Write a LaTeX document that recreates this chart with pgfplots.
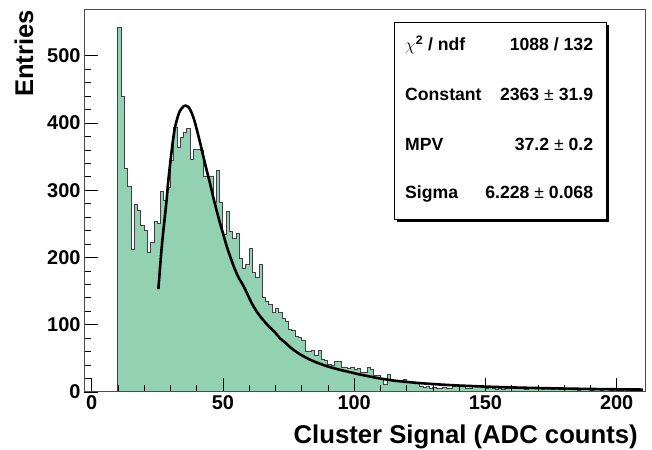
\documentclass[border=0pt]{standalone}
\usepackage{fontspec}
\setmainfont{Liberation Sans}
\usepackage{pgfplots}
\pgfplotsset{compat=1.18}
\definecolor{histfill}{RGB}{147,209,179}
\begin{document}
\begin{tikzpicture}[x=1bp,y=1bp,font=\bfseries]
\path[use as bounding box] (0,0) rectangle (652,450);
\begin{axis}[
  at={(84bp,58bp)}, anchor=south west, scale only axis,
  width=561bp, height=382.5bp,
  xmin=-2.93, xmax=210.8, ymin=0, ymax=569,
  axis line style={black!70, line width=1bp},
  xtick={0,50,100,150,200}, ytick={0,100,200,300,400,500},
  minor x tick num=4, minor y tick num=4,
  tick align=inside, xtick pos=left, ytick pos=left,
  major tick length=14bp, minor tick length=7bp,
  tick style={black, line width=0.8bp},
  tick label style={font=\fontsize{20}{24}\selectfont\bfseries},
  /pgf/number format/assume math mode=true,
  axis on top,
]
\addplot[const plot, fill=histfill, draw=black!75, line width=0.9bp] coordinates {
(10,542) (11.25,440) (12.5,332) (13.75,306) (15,212) (16.25,279) (17.5,270) (18.75,247) (20,240) (21.25,207) (22.5,222) (23.75,253) (25,250) (26.25,299) (27.5,285) (28.75,305) (30,345) (31.25,393) (32.5,364) (33.75,378) (35,386) (36.25,392) (37.5,346) (38.75,361) (40,361) (41.25,360) (42.5,321) (43.75,321) (45,320) (46.25,282) (47.5,330) (48.75,282) (50,235) (51.25,268) (52.5,239) (53.75,229) (55,236) (56.25,199) (57.5,184) (58.75,189) (60,214) (61.25,178) (62.5,170) (63.75,189) (65,141) (66.25,135) (67.5,130) (68.75,118) (70,125) (71.25,118) (72.5,110) (73.75,105) (75,93) (76.25,91) (77.5,83) (78.75,81) (80,76) (81.25,61) (82.5,60) (83.75,62) (85,54) (86.25,62) (87.5,49) (88.75,47) (90,41) (91.25,39) (92.5,45) (93.75,46) (95,36) (96.25,37) (97.5,35) (98.75,37) (100,34) (101.25,35) (102.5,29) (103.75,29) (105,36) (106.25,34) (107.5,24) (108.75,24) (110,20) (111.25,11) (112.5,26) (113.75,17) (115,16) (116.25,16) (117.5,17) (118.75,19) (120,15) (121.25,14) (122.5,14) (123.75,12) (125,8) (126.25,7) (127.5,8) (128.75,6) (130,7) (131.25,6) (132.5,6) (133.75,7) (135,6) (136.25,6) (137.5,8) (138.75,10) (140,9) (141.25,10) (142.5,5) (143.75,5) (145,8) (146.25,8) (147.5,9) (148.75,7) (150,6) (151.25,7) (152.5,5) (153.75,4) (155,5) (156.25,4) (157.5,6) (158.75,6) (160,7) (161.25,5) (162.5,6) (163.75,7) (165,4) (166.25,6) (167.5,5) (168.75,6) (170,5) (171.25,4) (172.5,6) (173.75,5) (175,4) (176.25,5) (177.5,6) (178.75,4) (180,5) (181.25,4) (182.5,5) (183.75,4) (185,3) (186.25,5) (187.5,4) (188.75,4) (190,3) (191.25,5) (192.5,4) (193.75,3) (195,4) (196.25,4) (197.5,3) (198.75,4) (200,3) (201.25,3) (202.5,4) (203.75,3) (205,3) (206.25,4) (207.5,3) (208.75,3) (210,3)
} \closedcycle;
\addplot[black, line width=2.6bp, smooth, tension=0.5] coordinates {
(25.4,153) (26.0,183) (26.6,212) (27.3,240) (28.0,265) (28.6,288) (29.2,315) (30.0,343) (30.5,360) (31.1,378) (31.7,393) (32.4,404) (33.0,412) (33.6,418) (34.3,422) (35.0,425) (35.7,426) (36.5,425) (37.4,421) (38.0,416) (38.7,409) (39.4,400) (40.0,391) (41.3,371) (42.5,351) (43.8,330) (45.1,310) (46.3,290) (47.6,270) (48.9,251) (50.1,235) (51.5,216) (52.9,200) (54.5,183) (56.0,170) (57.8,158) (59.5,144) (61.0,132) (62.5,122) (64.1,113) (66.0,104) (67.9,96) (69.8,89) (71.7,80) (73.6,74) (75.5,67) (77.5,61) (79.4,56) (83.2,48) (87.0,42) (90.8,37) (94.6,33) (98.4,29.5) (102.2,26) (106,23) (110,20) (115,17) (120,15) (125,13.2) (130,11.8) (135,10.6) (140,9.6) (145,8.8) (150,8.0) (160,6.8) (170,5.9) (180,5.1) (190,4.5) (200,4.0) (210,3.6)
};
\end{axis}
% axis titles
\node[anchor=east, inner sep=0pt, font=\fontsize{25.8}{30}\selectfont\bfseries] at (638,13.3) {Cluster Signal (ADC counts)};
\node[anchor=east, rotate=90, inner sep=0pt, font=\fontsize{25.7}{30}\selectfont\bfseries] at (24,440) {Entries};
% stats box
\fill[black] (396.5,228.2) rectangle (609.2,424.8);
\draw[black, line width=0.8bp, fill=white] (394,230.7) rectangle (606.7,427.3);
\begin{scope}[every node/.style={inner sep=0pt, text height=0.72em, text depth=0pt, font=\fontsize{17.7}{21}\selectfont\bfseries}]
\node[anchor=west] at (405,403.3) {$\chi$\textsuperscript{2} / ndf};
\node[anchor=east] at (593.3,403.3) {1088 / 132};
\node[anchor=west] at (405,353.3) {Constant};
\node[anchor=east] at (593.3,353.3) {2363 {\mdseries\textpm} 31.9};
\node[anchor=west] at (405,303.3) {MPV};
\node[anchor=east] at (593.3,303.3) {37.2 {\mdseries\textpm} 0.2};
\node[anchor=west] at (405,255) {Sigma};
\node[anchor=east] at (593.3,255) {6.228 {\mdseries\textpm} 0.068};
\end{scope}
\end{tikzpicture}
\end{document}
